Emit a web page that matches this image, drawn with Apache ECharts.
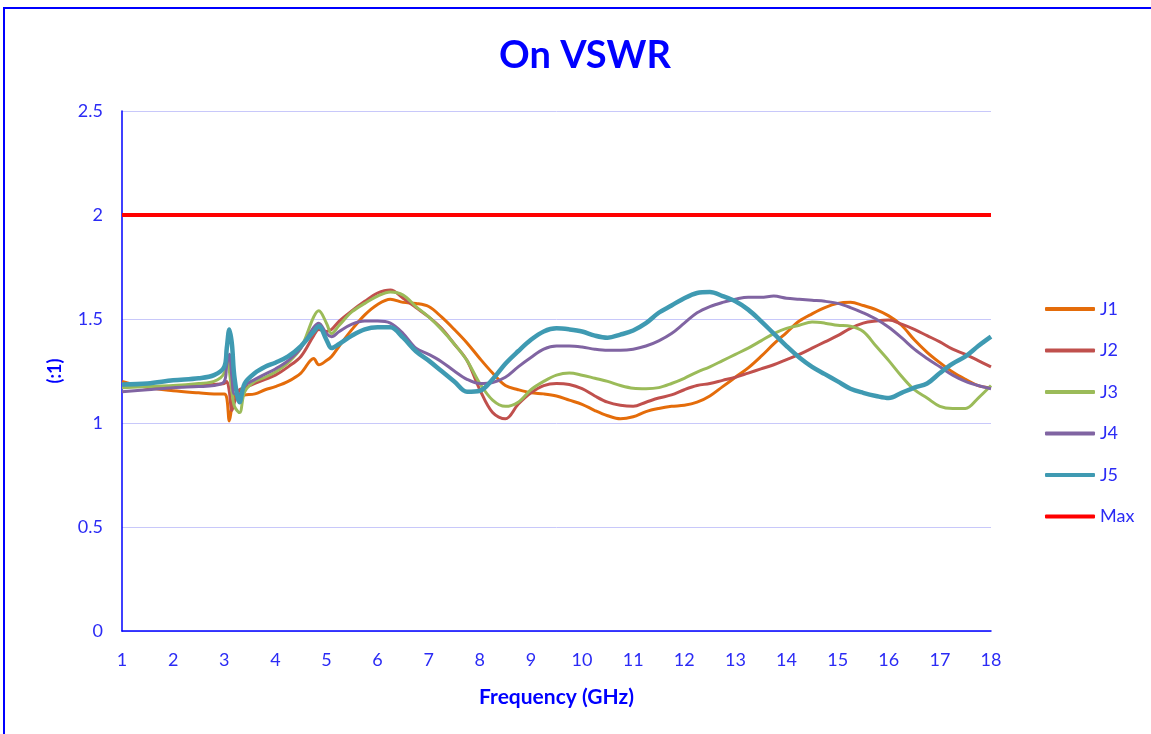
<!DOCTYPE html>
<html>
<head>
<meta charset="utf-8">
<script src="https://cdn.jsdelivr.net/npm/echarts@6/dist/echarts.min.js"></script>
<style>
  html, body { margin: 0; padding: 0; background: #fff; }
  #main { width: 1151px; height: 734px; }
</style>
</head>
<body>
<div id="main"></div>
<script>
// frequency points (GHz), denser around the 3 GHz glitch
var freq = [1, 1.5, 2, 2.5, 2.8, 3, 3.05, 3.1, 3.15, 3.2, 3.3,
    3.4, 3.6, 3.8, 4, 4.25, 4.5, 4.75, 4.85, 5, 5.1, 5.25,
    5.5, 5.75, 6, 6.25, 6.5, 6.75, 7, 7.25, 7.5, 7.75, 8,
    8.25, 8.5, 8.75, 9, 9.25, 9.5, 9.75, 10, 10.25, 10.5, 10.75,
    11, 11.25, 11.5, 11.75, 12, 12.25, 12.5, 12.75, 13, 13.25, 13.5,
    13.75, 14, 14.25, 14.5, 14.75, 15, 15.25, 15.5, 15.75, 16, 16.25,
    16.5, 16.75, 17, 17.25, 17.5, 17.75, 18]

var j1 = [1.20, 1.17, 1.155, 1.145, 1.14, 1.14, 1.12, 1.01, 1.08, 1.13, 1.13,
    1.135, 1.14, 1.16, 1.175, 1.20, 1.24, 1.31, 1.28, 1.30, 1.32, 1.37,
    1.45, 1.52, 1.57, 1.595, 1.58, 1.575, 1.56, 1.51, 1.45, 1.385, 1.31,
    1.24, 1.18, 1.16, 1.145, 1.14, 1.13, 1.11, 1.09, 1.06, 1.035, 1.02,
    1.03, 1.055, 1.07, 1.08, 1.085, 1.10, 1.13, 1.175, 1.22, 1.265, 1.32,
    1.38, 1.435, 1.49, 1.525, 1.555, 1.575, 1.58, 1.565, 1.545, 1.515, 1.47,
    1.40, 1.34, 1.29, 1.245, 1.21, 1.18, 1.17]

var j2 = [1.175, 1.175, 1.175, 1.18, 1.185, 1.19, 1.20, 1.15, 1.06, 1.10, 1.16,
    1.17, 1.19, 1.21, 1.23, 1.27, 1.32, 1.42, 1.45, 1.44, 1.45, 1.49,
    1.54, 1.585, 1.625, 1.64, 1.60, 1.555, 1.51, 1.455, 1.38, 1.30, 1.16,
    1.05, 1.02, 1.09, 1.145, 1.18, 1.19, 1.185, 1.165, 1.13, 1.10, 1.085,
    1.08, 1.10, 1.12, 1.135, 1.16, 1.18, 1.19, 1.205, 1.22, 1.24, 1.26,
    1.28, 1.305, 1.33, 1.36, 1.39, 1.42, 1.455, 1.48, 1.49, 1.495, 1.475,
    1.45, 1.42, 1.39, 1.355, 1.33, 1.30, 1.27]

var j3 = [1.17, 1.175, 1.18, 1.19, 1.20, 1.24, 1.33, 1.25, 1.15, 1.08, 1.05,
    1.15, 1.20, 1.22, 1.245, 1.29, 1.36, 1.51, 1.54, 1.48, 1.43, 1.47,
    1.535, 1.575, 1.61, 1.63, 1.615, 1.56, 1.51, 1.45, 1.38, 1.30, 1.19,
    1.11, 1.08, 1.10, 1.16, 1.20, 1.23, 1.24, 1.23, 1.215, 1.20, 1.18,
    1.167, 1.165, 1.17, 1.19, 1.215, 1.245, 1.27, 1.30, 1.33, 1.36, 1.395,
    1.43, 1.455, 1.47, 1.485, 1.48, 1.47, 1.465, 1.44, 1.37, 1.30, 1.225,
    1.16, 1.12, 1.08, 1.07, 1.07, 1.12, 1.18]

var j4 = [1.15, 1.16, 1.17, 1.175, 1.18, 1.20, 1.28, 1.33, 1.22, 1.14, 1.14,
    1.18, 1.21, 1.235, 1.26, 1.30, 1.36, 1.46, 1.48, 1.43, 1.415, 1.44,
    1.475, 1.49, 1.49, 1.48, 1.43, 1.36, 1.33, 1.295, 1.25, 1.21, 1.19,
    1.195, 1.22, 1.27, 1.315, 1.355, 1.37, 1.37, 1.365, 1.355, 1.35, 1.35,
    1.355, 1.37, 1.395, 1.43, 1.48, 1.53, 1.56, 1.58, 1.595, 1.605, 1.605,
    1.61, 1.60, 1.595, 1.59, 1.585, 1.575, 1.555, 1.53, 1.50, 1.46, 1.41,
    1.355, 1.31, 1.27, 1.23, 1.20, 1.18, 1.165]

var j5 = [1.185, 1.19, 1.205, 1.215, 1.23, 1.27, 1.36, 1.45, 1.38, 1.22, 1.10,
    1.19, 1.24, 1.27, 1.29, 1.32, 1.37, 1.44, 1.465, 1.40, 1.36, 1.38,
    1.42, 1.45, 1.46, 1.46, 1.41, 1.345, 1.30, 1.25, 1.20, 1.15, 1.155,
    1.21, 1.285, 1.345, 1.40, 1.44, 1.455, 1.45, 1.44, 1.42, 1.41, 1.425,
    1.445, 1.48, 1.53, 1.565, 1.60, 1.625, 1.63, 1.61, 1.585, 1.545, 1.49,
    1.43, 1.37, 1.315, 1.27, 1.235, 1.20, 1.165, 1.145, 1.13, 1.12, 1.145,
    1.17, 1.19, 1.24, 1.285, 1.32, 1.37, 1.415]

var maxFreq = [1, 18]
var maxVswr = [2, 2]

var seriesNames = ["J1", "J2", "J3", "J4", "J5", "Max"]
var seriesColors = ["#E46C0A", "#C0504D", "#9BBB59", "#8064A2", "#3F9AB2", "#FF0000"]

function pairs(xs, ys) {
    return xs.map(function (x, i) { return [x, ys[i]] })
}

var blue = "#0000FF"
var labelBlue = "#2B2BF5"
var font = "Lato, 'Open Sans', sans-serif"

var chartDom = document.getElementById("main")
var myChart = echarts.init(chartDom, null, { renderer: "canvas" })

function lineSeries(idx, data, width) {
    return {
        name: seriesNames[idx],
        type: "line",
        data: data,
        showSymbol: false,
        smooth: 0.35,
        lineStyle: { color: seriesColors[idx], width: width },
        itemStyle: { color: seriesColors[idx] },
        z: 2 + idx,
        animation: false
    }
}

var option = {
    backgroundColor: "#fff",
    animation: false,
    graphic: [
        {
            type: "rect",
            shape: { x: 4, y: 8, width: 1200, height: 800 },
            style: { fill: "none", stroke: blue, lineWidth: 2 },
            silent: true
        }
    ],
    title: {
        text: "On VSWR",
        left: 580,
        textAlign: "center",
        top: 32,
        textStyle: { color: blue, fontSize: 38, fontWeight: "bold", fontFamily: font }
    },
    legend: {
        orient: "vertical",
        left: 1040,
        top: 295,
        itemWidth: 50,
        itemHeight: 4,
        itemGap: 23.5,
        icon: "roundRect",
        data: seriesNames,
        textStyle: { color: labelBlue, fontSize: 18, lineHeight: 18, fontFamily: font }
    },
    grid: {
        left: 122,
        right: 160,
        top: 111,
        bottom: 103,
        containLabel: false
    },
    xAxis: {
        type: "value",
        min: 1,
        max: 18,
        interval: 1,
        name: "Frequency (GHz)",
        nameLocation: "middle",
        nameGap: 56,
        nameTextStyle: { color: blue, fontSize: 21, fontWeight: "bold", fontFamily: font },
        axisLine: { lineStyle: { color: blue, width: 1.5 } },
        axisTick: { show: false },
        axisLabel: { color: labelBlue, fontSize: 18, margin: 20, fontFamily: font },
        splitLine: { show: false }
    },
    yAxis: {
        type: "value",
        min: 0,
        max: 2.5,
        interval: 0.5,
        name: "(:1)",
        nameLocation: "middle",
        nameGap: 58,
        nameTextStyle: { color: blue, fontSize: 18, fontWeight: "bold", fontFamily: font },
        axisLine: { show: true, lineStyle: { color: blue, width: 1.5 } },
        axisTick: { show: false },
        axisLabel: { color: labelBlue, fontSize: 18, margin: 19, fontFamily: font },
        splitLine: { lineStyle: { color: "#C8C8FA", width: 1 } }
    },
    series: [
        lineSeries(0, pairs(freq, j1), 3),
        lineSeries(1, pairs(freq, j2), 3),
        lineSeries(2, pairs(freq, j3), 3),
        lineSeries(3, pairs(freq, j4), 3),
        lineSeries(4, pairs(freq, j5), 4.5),
        lineSeries(5, pairs(maxFreq, maxVswr), 4)
    ]
}

option && myChart.setOption(option)
</script>
</body>
</html>
